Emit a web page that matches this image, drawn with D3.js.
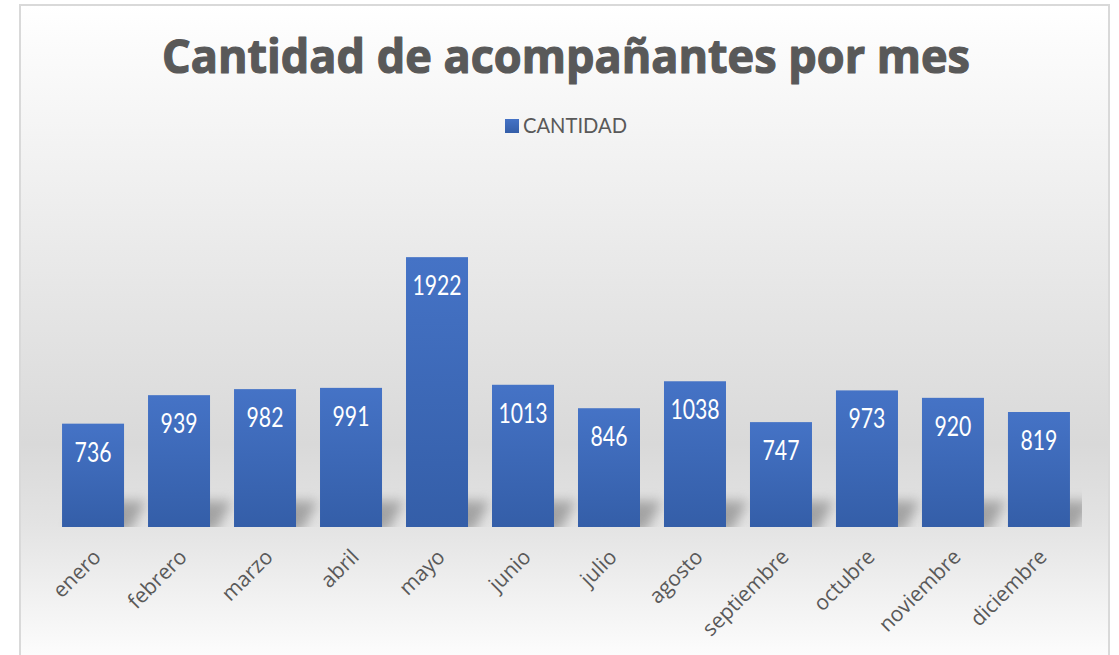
<!DOCTYPE html>
<html lang="es">
<head>
<meta charset="UTF-8">
<title>Cantidad de acompañantes por mes</title>
<style>
  html, body { margin: 0; padding: 0; background: #fff; }
  svg { display: block; }
</style>
</head>
<body>
<svg id="svg" width="1119" height="655"></svg>
<script src="https://d3js.org/d3.v7.min.js"></script>
<script>
  // datos
  const meses = ["enero", "febrero", "marzo", "abril", "mayo", "junio", "julio",
    "agosto", "septiembre", "octubre", "noviembre", "diciembre"]
  const cantidad = [736, 939, 982, 991, 1922, 1013, 846, 1038, 747, 973, 920, 819]
  const serieNombre = "CANTIDAD"
  const titulo = "Cantidad de acompañantes por mes"
  const yMax = 2500

  const svg = d3.select("#svg")

  // area del grafico (marco)
  const frame = { x: 20, y: 5, w: 1089, h: 665 }
  const plot = { left: 50, right: 1082, top: 176, bottom: 527 }

  const defs = svg.append("defs")
  const bg = defs.append("linearGradient").attr("id", "bg")
    .attr("x1", 0).attr("y1", 0).attr("x2", 0).attr("y2", 1)
  bg.append("stop").attr("offset", "0%").attr("stop-color", "#ffffff")
  bg.append("stop").attr("offset", "66%").attr("stop-color", "#d9d9d9")
  bg.append("stop").attr("offset", "78%").attr("stop-color", "#e3e3e3")
  bg.append("stop").attr("offset", "100%").attr("stop-color", "#ffffff")

  const barGrad = defs.append("linearGradient").attr("id", "barGrad")
    .attr("x1", 0).attr("y1", 0).attr("x2", 0).attr("y2", 1)
  barGrad.append("stop").attr("offset", "0%").attr("stop-color", "#4573c6")
  barGrad.append("stop").attr("offset", "100%").attr("stop-color", "#345ea8")

  defs.append("filter").attr("id", "blur")
    .attr("x", "-50%").attr("y", "-50%").attr("width", "200%").attr("height", "200%")
    .append("feGaussianBlur").attr("stdDeviation", 6)

  defs.append("clipPath").attr("id", "plotClip")
    .append("rect")
    .attr("x", plot.left).attr("y", plot.top)
    .attr("width", plot.right - plot.left).attr("height", plot.bottom - plot.top)

  svg.append("rect")
    .attr("x", frame.x).attr("y", frame.y)
    .attr("width", frame.w).attr("height", frame.h)
    .attr("fill", "url(#bg)")
    .attr("stroke", "#d9d9d9").attr("stroke-width", 2)

  // escalas
  const x = d3.scaleBand().domain(meses).range([plot.left, plot.right])
    .paddingInner(0.279).paddingOuter(0.14)
  const y = d3.scaleLinear().domain([0, yMax]).range([plot.bottom, plot.top])

  const data = meses.map((m, i) => ({ mes: m, valor: cantidad[i] }))

  // sombra de las barras (perspectiva hacia arriba-derecha)
  svg.append("g").attr("clip-path", "url(#plotClip)")
    .selectAll("path").data(data).enter().append("path")
    .attr("d", d => {
      const x0 = x(d.mes), w = x.bandwidth(), b = plot.bottom
      return `M${x0 + 6},${b + 4} L${x0 + w + 6},${b + 4} L${x0 + w + 22},${b - 26} L${x0 + 20},${b - 26} Z`
    })
    .attr("fill", "#888888")
    .attr("opacity", 0.7)
    .attr("filter", "url(#blur)")

  // barras
  svg.append("g").selectAll("rect").data(data).enter().append("rect")
    .attr("x", d => x(d.mes))
    .attr("y", d => y(d.valor))
    .attr("width", x.bandwidth())
    .attr("height", d => y(0) - y(d.valor))
    .attr("fill", "url(#barGrad)")

  // etiquetas de datos
  svg.append("g").selectAll("text").data(data).enter().append("text")
    .attr("x", d => x(d.mes) + x.bandwidth() / 2)
    .attr("y", d => y(d.valor) + 38)
    .attr("text-anchor", "middle")
    .attr("fill", "#ffffff")
    .attr("textLength", d => String(d.valor).length * 12.3)
    .attr("lengthAdjust", "spacingAndGlyphs")
    .style("font-family", "'Lato', sans-serif")
    .style("font-size", "27px")
    .text(d => d.valor)

  // eje x
  const xAxis = svg.append("g").attr("transform", `translate(0,${plot.bottom})`)
    .call(d3.axisBottom(x).tickSize(0).tickPadding(0))
  xAxis.select(".domain").remove()
  xAxis.selectAll("text")
    .attr("text-anchor", "end")
    .attr("fill", "#595959")
    .attr("transform", "translate(4,26) rotate(-45)")
    .attr("dy", "0.35em")
    .style("font-family", "'Open Sans', sans-serif")
    .style("font-size", "21px")

  // titulo
  svg.append("text")
    .attr("x", 566).attr("y", 73)
    .attr("text-anchor", "middle")
    .attr("fill", "#595959")
    .attr("stroke", "#595959").attr("stroke-width", 1.2).attr("stroke-linejoin", "round")
    .attr("textLength", 808).attr("lengthAdjust", "spacingAndGlyphs")
    .style("font-family", "'Open Sans', sans-serif")
    .style("font-weight", "bold")
    .style("font-size", "46px")
    .text(titulo)

  // leyenda
  const leg = svg.append("g")
  leg.append("rect").attr("x", 505).attr("y", 119).attr("width", 14).attr("height", 14)
    .attr("fill", "url(#barGrad)")
  leg.append("text").attr("x", 523).attr("y", 133)
    .attr("fill", "#595959")
    .attr("textLength", 104).attr("lengthAdjust", "spacingAndGlyphs")
    .style("font-family", "'Lato', sans-serif")
    .style("font-size", "21px")
    .text(serieNombre)
</script>
</body>
</html>
